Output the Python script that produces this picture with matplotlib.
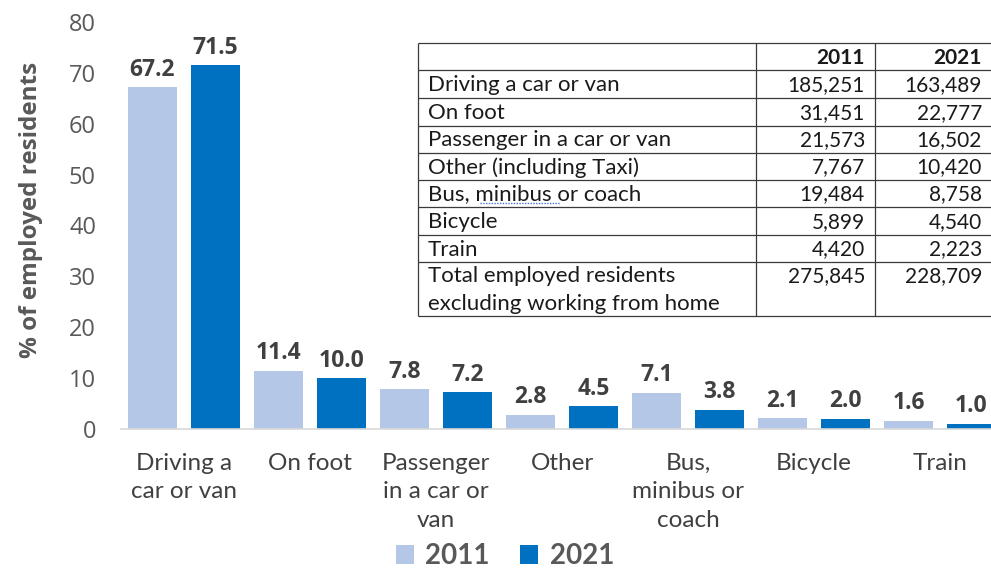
import matplotlib
matplotlib.use("Agg")
import matplotlib.pyplot as plt
from matplotlib.patches import Patch, Rectangle
import numpy as np

# --- data -------------------------------------------------------------
categories = ["Driving a\ncar or van", "On foot", "Passenger\nin a car or\nvan", "Other",
              "Bus,\nminibus or\ncoach", "Bicycle", "Train"]
pct_2011 = [67.2, 11.4, 7.8, 2.8, 7.1, 2.1, 1.6]
pct_2021 = [71.5, 10.0, 7.2, 4.5, 3.8, 2.0, 1.0]
series_labels = ["2011", "2021"]
yticks = [0, 10, 20, 30, 40, 50, 60, 70, 80]

table_rows = ["Driving a car or van", "On foot", "Passenger in a car or van",
              "Other (including Taxi)", "Bus, minibus or coach", "Bicycle", "Train",
              "Total employed residents\nexcluding working from home"]
count_2011 = ["185,251", "31,451", "21,573", "7,767", "19,484", "5,899", "4,420", "275,845"]
count_2021 = ["163,489", "22,777", "16,502", "10,420", "8,758", "4,540", "2,223", "228,709"]

# --- style ------------------------------------------------------------
c2011 = "#B4C7E7"
c2021 = "#0070C0"
grey_txt = "#595959"
dark_txt = "#404040"
W, H = 991, 568

fig = plt.figure(figsize=(W / 100, H / 100), dpi=100)
ax = fig.add_axes([121 / W, 139 / H, 882 / W, 407 / H])

x = np.arange(len(categories))
bw = 0.39
off = 0.25
b1 = ax.bar(x - off, pct_2011, bw, color=c2011, zorder=2)
b2 = ax.bar(x + off, pct_2021, bw, color=c2021, zorder=2)

for bars, vals in ((b1, pct_2011), (b2, pct_2021)):
    for r, v in zip(bars, vals):
        ax.annotate(f"{v:.1f}", (r.get_x() + r.get_width() / 2, v),
                    xytext=(0, 4), textcoords="offset points",
                    ha="center", va="bottom", fontsize=16.5, fontweight="bold",
                    family="Open Sans", color=dark_txt)

ax.set_xlim(-0.5, len(categories) - 0.5)
ax.set_ylim(0, 80)
ax.set_yticks(yticks)
ax.set_yticklabels([str(t) for t in yticks], family="Open Sans", fontsize=17, color=grey_txt)
ax.tick_params(axis="y", length=0, pad=18)
ax.set_xticks(x)
ax.set_xticklabels(categories, family="Lato", fontsize=17.5, color=dark_txt)
for lbl in ax.get_xticklabels():
    lbl.set_linespacing(1.45)
ax.tick_params(axis="x", length=0, pad=17)
for s in ("top", "right", "left"):
    ax.spines[s].set_visible(False)
ax.spines["bottom"].set_color("#D9D9D9")
ax.spines["bottom"].set_linewidth(1.2)
ax.set_ylabel("% of employed residents", family="Open Sans", fontweight="bold",
              fontsize=17.5, color=grey_txt)
ax.yaxis.set_label_coords(-0.088, 0.538)

# --- legend -----------------------------------------------------------
handles = [Patch(facecolor=c2011), Patch(facecolor=c2021)]
leg = fig.legend(handles, series_labels, loc="center",
                 bbox_to_anchor=(505 / W, 1 - 556 / H), ncol=2, frameon=False,
                 prop={"family": "Lato", "weight": "bold", "size": 20},
                 handlelength=0.65, handleheight=0.65, handletextpad=0.4,
                 columnspacing=1.1)
for t in leg.get_texts():
    t.set_color(grey_txt)

# --- inset table drawn in pixel coordinates ----------------------------
ov = fig.add_axes([0, 0, 1, 1], zorder=5)
ov.set_xlim(0, W)
ov.set_ylim(H, 0)
ov.axis("off")
ov.patch.set_alpha(0)

col_x = [418, 756, 875, 991]
row_y = [43, 70, 98, 126, 153, 180, 207, 235, 262, 316]
ov.add_patch(Rectangle((col_x[0], row_y[0]), col_x[-1] - col_x[0], row_y[-1] - row_y[0],
                       facecolor="white", edgecolor="none"))
lc = "#3A3A3A"
for yy in row_y:
    ov.plot([col_x[0], col_x[-1]], [yy, yy], color=lc, lw=0.9, solid_capstyle="butt")
for xx in col_x[:3]:
    ov.plot([xx, xx], [row_y[0], row_y[-1]], color=lc, lw=0.9, solid_capstyle="butt")

lab_font = dict(family="Lato", fontsize=16, color="#1A1A1A")
num_font = dict(family="Lato", fontsize=15, color="#1A1A1A")
hdr_y = (row_y[0] + row_y[1]) / 2 + 1
ov.text(col_x[2] - 10, hdr_y, series_labels[0], ha="right", va="center",
        fontweight="bold", **num_font)
ov.text(col_x[3] - 9, hdr_y, series_labels[1], ha="right", va="center",
        fontweight="bold", **num_font)
for i, (lab, a, b) in enumerate(zip(table_rows, count_2011, count_2021)):
    top, bot = row_y[i + 1], row_y[i + 2]
    if "\n" in lab:
        yy = top + 14
        ov.text(col_x[0] + 10, yy, lab.split("\n")[0], ha="left", va="center", **lab_font)
        ov.text(col_x[0] + 10, yy + 28, lab.split("\n")[1], ha="left", va="center", **lab_font)
        ov.text(col_x[2] - 10, yy, a, ha="right", va="center", **num_font)
        ov.text(col_x[3] - 9, yy, b, ha="right", va="center", **num_font)
    else:
        yy = (top + bot) / 2 + 1
        ov.text(col_x[0] + 10, yy, lab, ha="left", va="center", **lab_font)
        ov.text(col_x[2] - 10, yy, a, ha="right", va="center", **num_font)
        ov.text(col_x[3] - 9, yy, b, ha="right", va="center", **num_font)

# spell-check style dotted underline beneath "minibus"
ov.plot([480, 560], [203, 203], color="#4A6FD8", lw=1.0, ls=(0, (1, 1)))

fig.savefig("out.png", dpi=100)
